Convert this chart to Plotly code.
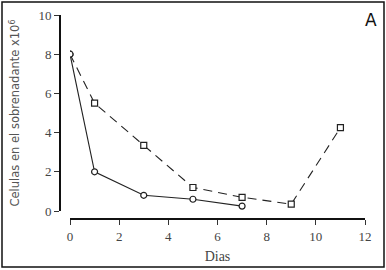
import plotly.graph_objects as go

days_a = [0, 1, 3, 5, 7]
cells_a = [8.0, 2.0, 0.8, 0.6, 0.25]
days_b = [0, 1, 3, 5, 7, 9, 11]
cells_b = [8.0, 5.5, 3.35, 1.2, 0.7, 0.35, 4.25]
x_ticks = [0, 2, 4, 6, 8, 10, 12]
y_ticks = [0, 2, 4, 6, 8, 10]

fig = go.Figure()
fig.add_trace(go.Scatter(
    x=days_b, y=cells_b, mode="lines+markers",
    line=dict(color="#222", width=1.1, dash="9px,6px"),
    marker=dict(symbol=["circle"] + ["square"] * (len(days_b) - 1),
                size=6, color="white", line=dict(width=1.2, color="#222")),
    showlegend=False))
fig.add_trace(go.Scatter(
    x=days_a, y=cells_a, mode="lines+markers",
    line=dict(color="#222", width=1.1),
    marker=dict(symbol="circle", size=6, color="white", line=dict(width=1.2, color="#222")),
    showlegend=False))

L, R, T, B = 60, 21, 15, 51
W, H = 386, 270
pw = W - L - R
ph = H - T - B

fig.update_layout(
    width=W, height=H,
    margin=dict(l=L, r=R, t=T, b=B, autoexpand=False),
    paper_bgcolor="white", plot_bgcolor="white",
    xaxis=dict(range=[0, 12], domain=[(70 - 60) / pw, 1], anchor="free", position=0,
               automargin=False,
               tickvals=x_ticks, showgrid=False, zeroline=False,
               showline=True, linecolor="#111", linewidth=2,
               ticks="outside", ticklen=5, tickcolor="#333", tickwidth=1,
               tickfont=dict(family="Liberation Serif", size=13, color="#444"),
               title=dict(text="Dias", font=dict(family="Liberation Serif", size=14, color="#444"),
                          standoff=8)),
    yaxis=dict(range=[0, 10], domain=[(219 - 211) / ph, 1], anchor="free", position=0,
               automargin=False,
               tickvals=y_ticks, showgrid=False, zeroline=False,
               showline=True, linecolor="#111", linewidth=2,
               ticks="outside", ticklen=5, tickcolor="#333", tickwidth=1,
               tickfont=dict(family="Liberation Serif", size=13, color="#444"),
               title=dict(text="Celulas en el sobrenadante x10<sup>6</sup>",
                          font=dict(family="DejaVu Sans", size=11.5, color="#555"),
                          standoff=15)),
    shapes=[dict(type="rect", xref="paper", yref="paper",
                 x0=(2 - L) / pw, x1=(384 - L) / pw,
                 y0=(H - B - 267) / ph, y1=(H - B - 2) / ph,
                 line=dict(color="#111", width=1.5), fillcolor="rgba(0,0,0,0)")],
    annotations=[dict(text="A", xref="paper", yref="paper",
                      x=(371 - L) / pw, y=(H - B - 20) / ph, showarrow=False,
                      xanchor="center", yanchor="middle",
                      font=dict(family="DejaVu Sans", size=17, color="#111"))],
)

fig.write_html("out.html", config={"displayModeBar": False},
               post_script="document.body.style.margin='0';document.body.style.padding='0';")
